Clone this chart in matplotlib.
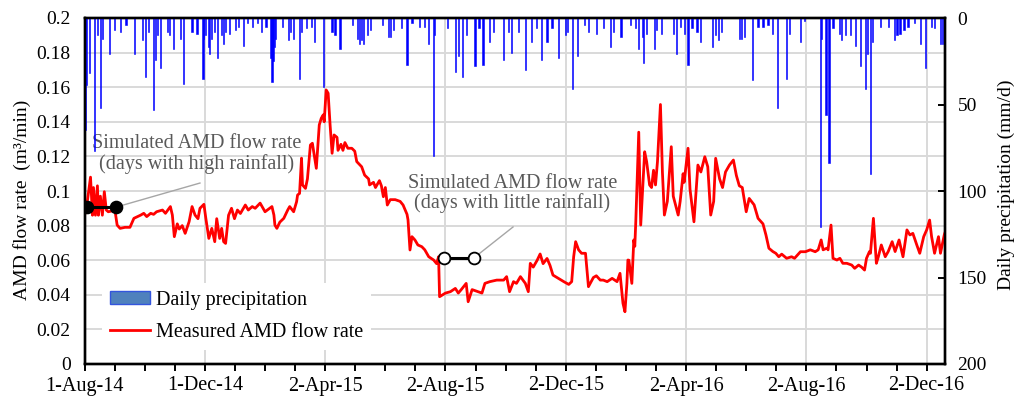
import matplotlib
matplotlib.use('Agg')
import matplotlib.pyplot as plt
import numpy as np
from matplotlib.lines import Line2D
from matplotlib.patches import Patch
from matplotlib.ticker import MultipleLocator, FuncFormatter

plt.rcParams['font.family'] = ['Liberation Serif', 'DejaVu Serif']

# ---------------- data (x = days since 1-Aug-2014) ----------------
tick_labels = ["1-Aug-14", "1-Dec-14", "2-Apr-15", "2-Aug-15",
               "2-Dec-15", "2-Apr-16", "2-Aug-16", "2-Dec-16"]
tick_step_days = 122
axis_end_day = 872.6

precip_day = [1, 2, 5, 10, 13, 16, 18, 25, 30, 36,
              42, 51, 59, 62, 65, 70, 72, 74, 77, 84,
              86, 90, 97, 100, 109, 114, 120, 121, 123, 126,
              127, 129, 132, 135, 139, 141, 143, 147, 153, 156,
              161, 165, 170, 175, 179, 184, 189, 190, 191, 193,
              194, 201, 207, 209, 212, 218, 220, 225, 230, 233,
              242, 251, 254, 259, 272, 277, 279, 281, 283, 287,
              290, 302, 308, 310, 313, 321, 327, 332, 340, 345,
              349, 354, 355, 368, 376, 379, 383, 387, 396, 400,
              404, 411, 415, 425, 430, 433, 440, 447, 453, 458,
              463, 469, 474, 481, 488, 490, 495, 500, 507, 511,
              519, 526, 533, 536, 544, 554, 559, 562, 566, 567,
              570, 578, 580, 585, 597, 600, 604, 608, 612, 616,
              621, 625, 637, 640, 643, 646, 664, 666, 669, 677,
              683, 688, 693, 698, 703, 712, 715, 726, 730, 746,
              747, 752, 755, 759, 766, 768, 772, 777, 782, 787,
              792, 794, 797, 799, 807, 815, 821, 824, 827, 831,
              835, 842, 848, 853, 859, 862, 868, 870]
precip_mm = [65, 39, 32, 77, 10, 52, 12, 21, 7, 8,
             4, 21, 13, 34, 8, 53, 24, 10, 29, 8,
             10, 18, 12, 38, 8, 9, 35, 12, 10, 17,
             21, 12, 8, 23, 10, 15, 8, 9, 7, 5,
             16, 3, 5, 3, 8, 5, 23, 37, 25, 17,
             12, 5, 13, 8, 12, 35, 8, 6, 5, 14,
             40, 8, 10, 18, 4, 12, 15, 13, 15, 10,
             7, 4, 11, 11, 7, 6, 27, 3, 5, 5,
             15, 80, 10, 6, 31, 22, 34, 10, 28, 6,
             27, 14, 8, 24, 8, 20, 8, 30, 14, 6,
             24, 14, 6, 23, 10, 8, 41, 22, 4, 8,
             9, 6, 17, 8, 11, 4, 6, 18, 11, 26,
             9, 18, 7, 9, 9, 21, 5, 9, 27, 6,
             8, 14, 17, 10, 13, 8, 12, 12, 11, 36,
             5, 5, 4, 9, 52, 35, 9, 14, 2, 121,
             12, 56, 84, 6, 9, 13, 10, 10, 16, 28,
             41, 21, 90, 14, 5, 5, 13, 10, 9, 7,
             5, 3, 15, 29, 5, 6, 15, 15]

flow_day = [0, 3, 6, 8, 9, 11, 13, 14, 16, 18,
            20, 22, 24, 28, 31, 33, 36, 41, 46, 50,
            53, 57, 60, 63, 67, 70, 73, 79, 82, 87,
            89, 91, 94, 96, 99, 102, 106, 109, 112, 115,
            117, 121, 123, 126, 129, 132, 134, 137, 139, 141,
            143, 146, 149, 152, 155, 158, 163, 166, 170, 173,
            178, 183, 190, 192, 193, 195, 198, 202, 206, 208,
            212, 215, 216, 218, 220, 221, 224, 226, 229, 231,
            234, 235, 238, 240, 242, 243, 245, 247, 249, 251,
            253, 256, 257, 260, 262, 264, 267, 271, 274, 276,
            281, 284, 288, 289, 293, 295, 299, 301, 303, 305,
            307, 310, 315, 320, 323, 327, 328, 330, 332, 335,
            338, 342, 345, 349, 354, 357, 359, 360, 366, 371,
            376, 379, 382, 387, 389, 393, 398, 403, 406, 411,
            418, 425, 428, 431, 435, 438, 442, 447, 450, 452,
            455, 459, 462, 465, 469, 472, 475, 479, 486, 491,
            494, 496, 498, 501, 504, 508, 511, 516, 519, 523,
            526, 530, 535, 540, 543, 546, 548, 550, 551, 552,
            555, 557, 558, 559, 562, 564, 568, 570, 573, 575,
            577, 579, 581, 584, 586, 588, 591, 595, 597, 602,
            604, 607, 608, 612, 614, 618, 622, 625, 629, 632,
            635, 638, 640, 644, 647, 650, 654, 658, 661, 664,
            667, 671, 674, 679, 683, 688, 691, 694, 698, 701,
            704, 707, 712, 717, 720, 726, 731, 736, 741, 744,
            747, 749, 753, 754, 757, 759, 763, 766, 769, 773,
            778, 781, 785, 788, 791, 793, 796, 797, 800, 803,
            805, 808, 812, 815, 819, 822, 826, 830, 834, 837,
            840, 844, 847, 851, 854, 857, 859, 862, 866, 868,
            872, 873]
flow_val = [0.086, 0.095, 0.108, 0.086, 0.102, 0.086, 0.103, 0.086, 0.097, 0.086,
            0.0996, 0.089, 0.088, 0.0885, 0.088, 0.0803, 0.0784, 0.079, 0.079, 0.0842,
            0.085, 0.0861, 0.0871, 0.0852, 0.0871, 0.0865, 0.088, 0.089, 0.0871, 0.091,
            0.0861, 0.0736, 0.081, 0.078, 0.080, 0.0755, 0.0823, 0.091, 0.0861, 0.084,
            0.090, 0.0923, 0.084, 0.0726, 0.0784, 0.0707, 0.084, 0.0726, 0.0784, 0.0707,
            0.0697, 0.086, 0.090, 0.084, 0.089, 0.087, 0.0919, 0.089, 0.091, 0.090,
            0.093, 0.088, 0.091, 0.0861, 0.0803, 0.0784, 0.082, 0.0842, 0.089, 0.091,
            0.088, 0.0938, 0.0977, 0.0986, 0.119, 0.1035, 0.1015, 0.107, 0.1266, 0.1276,
            0.117, 0.1131, 0.1382, 0.142, 0.144, 0.140, 0.1584, 0.1565, 0.138, 0.1218,
            0.1324, 0.131, 0.1235, 0.127, 0.1235, 0.128, 0.1247, 0.1247, 0.123, 0.117,
            0.114, 0.1092, 0.107, 0.1035, 0.105, 0.102, 0.106, 0.103, 0.0967, 0.102,
            0.0919, 0.095, 0.095, 0.094, 0.0919, 0.0865, 0.0833, 0.0659, 0.0736, 0.0717,
            0.0688, 0.0678, 0.066, 0.062, 0.0601, 0.058, 0.062, 0.0389, 0.041, 0.0418,
            0.0437, 0.041, 0.043, 0.0466, 0.036, 0.043, 0.042, 0.041, 0.0466, 0.0476,
            0.0485, 0.0485, 0.0505, 0.0418, 0.0476, 0.0466, 0.0505, 0.0466, 0.0418, 0.0582,
            0.056, 0.060, 0.0636, 0.058, 0.061, 0.057, 0.0514, 0.050, 0.0476, 0.046,
            0.0476, 0.062, 0.0707, 0.066, 0.064, 0.064, 0.0447, 0.050, 0.051, 0.0485,
            0.0485, 0.0476, 0.0495, 0.0476, 0.0524, 0.0351, 0.0302, 0.0466, 0.0601, 0.060,
            0.0466, 0.0717, 0.068, 0.0822, 0.134, 0.0803, 0.1227, 0.117, 0.1035, 0.102,
            0.112, 0.1035, 0.117, 0.150, 0.111, 0.0861, 0.094, 0.1256, 0.097, 0.0861,
            0.094, 0.110, 0.105, 0.1247, 0.101, 0.0822, 0.115, 0.111, 0.1198, 0.114,
            0.0861, 0.094, 0.1189, 0.107, 0.102, 0.111, 0.115, 0.1179, 0.109, 0.103,
            0.102, 0.088, 0.0957, 0.092, 0.0842, 0.081, 0.0746, 0.0669, 0.065, 0.064,
            0.062, 0.0635, 0.0611, 0.062, 0.0611, 0.0649, 0.0649, 0.066, 0.0649, 0.066,
            0.0717, 0.066, 0.067, 0.066, 0.0803, 0.0611, 0.0601, 0.0611, 0.0582, 0.0582,
            0.0572, 0.0553, 0.0572, 0.056, 0.0543, 0.0611, 0.065, 0.064, 0.0842, 0.0582,
            0.062, 0.0688, 0.062, 0.065, 0.0707, 0.065, 0.0717, 0.062, 0.0775, 0.0746,
            0.0755, 0.0688, 0.064, 0.0736, 0.0775, 0.0832, 0.0736, 0.064, 0.0736, 0.064,
            0.075, 0.0765]

sim_high_day = [2, 32]
sim_high_val = [0.0907, 0.0907]
sim_low_day = [364, 395]
sim_low_val = [0.0614, 0.0614]

# ---------------- figure ----------------
W, H = 1020, 399
fig = plt.figure(figsize=(W / 100, H / 100), dpi=100)
ax = fig.add_axes([84.6 / W, 35 / H, (945 - 84.6) / W, 346 / H])

ax.set_xlim(0, axis_end_day)
ax.set_ylim(0, 0.2)
ax.yaxis.set_major_locator(MultipleLocator(0.02))
ax.yaxis.set_major_formatter(FuncFormatter(lambda v, p: f"{v:.2f}".rstrip('0').rstrip('.') if v != 0 else "0"))
ax.set_xticks(np.arange(len(tick_labels)) * tick_step_days)
ax.set_xticklabels(tick_labels)
ax.xaxis.set_minor_locator(MultipleLocator(tick_step_days / 4))
ax.grid(True, which='major', color='#d9d9d9', lw=1.4)
ax.set_axisbelow(True)

ax.tick_params(axis='y', which='both', length=0, pad=10, labelsize=14)
ax.tick_params(axis='x', which='major', direction='out', length=5, width=1.4,
               pad=4, labelsize=14.5)
ax.tick_params(axis='x', which='minor', direction='out', length=5, width=1.4)

ax.plot(flow_day, flow_val, color='#ff0000', lw=2.0, zorder=3)

ax.plot(sim_high_day, sim_high_val, color='black', lw=2.2, marker='o', ms=8.5,
        mfc='black', mec='black', mew=1.3, zorder=6)
ax.plot(sim_low_day, sim_low_val, color='black', lw=2.2, marker='o', ms=8.5,
        mfc='white', mec='black', mew=1.3, zorder=6)

# leader lines and notes
ax.plot([sim_high_day[1], 117], [sim_high_val[1], 0.1046], color='#a6a6a6', lw=1.0, zorder=5)
ax.plot([sim_low_day[1], 434.5], [sim_low_val[1], 0.0792], color='#a6a6a6', lw=1.0, zorder=5)
ax.text(114, 0.1215, "Simulated AMD flow rate\n(days with high rainfall)", ha='center',
        va='center', color='#595959', fontsize=14.5, linespacing=1.05, zorder=7)
ax.text(434, 0.0985, "Simulated AMD flow rate\n(days with little rainfall)", ha='center',
        va='center', color='#595959', fontsize=14.5, linespacing=1.05, zorder=7)

# precipitation on secondary axis (inverted)
ax2 = ax.twinx()
ax2.set_ylim(200, 0)
ax2.set_yticks([0, 50, 100, 150, 200])
ax2.bar(precip_day, precip_mm, width=1.2, color='#0000ff', edgecolor='#0000ff',
        linewidth=0.4, zorder=2)
ax2.tick_params(axis='y', direction='in', length=5, width=1.4, pad=9, labelsize=14)

for a in (ax, ax2):
    for s in a.spines.values():
        s.set_linewidth(1.7)
        s.set_color('black')

fig.text(22 / W, 1 - 200 / H, "AMD flow rate  (m³/min)", rotation=90, ha='center',
         va='center', fontsize=14)
fig.text(1006 / W, 1 - 185 / H, "Daily precipitation (mm/d)", rotation=90, ha='center',
         va='center', fontsize=14)

handles = [Patch(facecolor='#4f81bd', edgecolor='#3355dd', lw=1.0),
           Line2D([], [], color='#ff0000', lw=2)]
leg = ax2.legend(handles, ["Daily precipitation", "Measured AMD flow rate"],
                 loc='upper left', bbox_to_anchor=(0.02, 0.235), borderaxespad=0,
                 frameon=True, facecolor='white', edgecolor='none', framealpha=1,
                 fontsize=14.5, handlelength=2.0, handleheight=0.6,
                 handletextpad=0.3, labelspacing=0.65, fancybox=False)

fig.savefig('out.png', dpi=100)
